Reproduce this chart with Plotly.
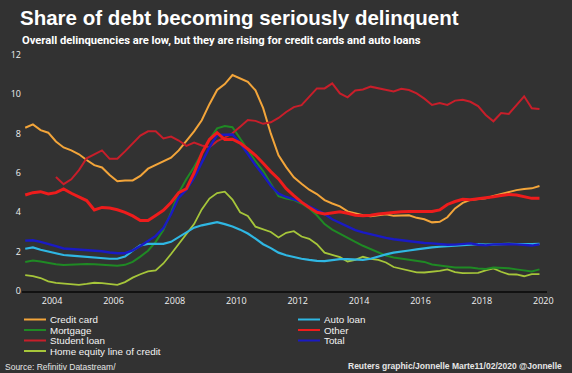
import plotly.graph_objects as go

# ---- data (quarterly, 2003Q1 .. 2019Q4), % of balance transitioning into serious delinquency
years = list(range(2003, 2020))
quarters = [(y, q) for y in years for q in (1, 2, 3, 4)]

credit_card = [8.30, 8.47, 8.18, 8.05, 7.60, 7.30, 7.15, 6.95, 6.66, 6.40, 6.28, 5.90,
               5.58, 5.62, 5.62, 5.85, 6.22, 6.40, 6.57, 6.78, 7.15, 7.62, 8.12, 8.68,
               9.50, 10.22, 10.52, 10.98, 10.81, 10.64, 10.20, 9.30, 8.00, 6.90, 6.30, 5.78,
               5.45, 5.15, 4.93, 4.62, 4.45, 4.30, 4.05, 3.95, 3.85, 3.80, 3.85, 3.90,
               3.82, 3.84, 3.85, 3.72, 3.65, 3.49, 3.52, 3.75, 4.20, 4.48, 4.63, 4.68,
               4.71, 4.83, 4.94, 5.05, 5.13, 5.19, 5.22, 5.34]

mortgage = [1.47, 1.55, 1.50, 1.42, 1.36, 1.32, 1.34, 1.36, 1.37, 1.36, 1.34, 1.32,
            1.29, 1.33, 1.48, 1.75, 2.05, 2.50, 3.10, 4.00, 5.00, 5.70, 6.30, 7.00,
            7.70, 8.27, 8.39, 8.33, 7.75, 7.15, 6.60, 6.10, 5.45, 4.82, 4.70, 4.62,
            4.45, 4.20, 3.85, 3.40, 3.12, 2.90, 2.72, 2.50, 2.30, 2.12, 1.94, 1.80,
            1.70, 1.65, 1.60, 1.52, 1.48, 1.35, 1.30, 1.24, 1.20, 1.19, 1.19, 1.15,
            1.12, 1.19, 1.18, 1.16, 1.10, 1.03, 0.99, 1.10]

student_loan = [None, None, None, None,
                5.80, 5.43, 5.68, 6.15, 6.75, 6.95, 7.15, 6.72,
                6.72, 7.10, 7.50, 7.90, 8.12, 8.12, 7.76, 7.85, 7.65, 7.38, 7.55, 7.40,
                7.31, 7.62, 7.80, 8.02, 8.35, 8.69, 8.65, 8.50, 8.58, 8.80, 9.10, 9.35,
                9.45, 9.85, 10.30, 10.30, 10.56, 10.05, 9.85, 10.20, 10.25, 10.39, 10.30, 10.22,
                10.15, 10.28, 10.22, 10.05, 9.78, 9.46, 9.56, 9.46, 9.68, 9.72, 9.62, 9.40,
                8.95, 8.63, 9.05, 9.00, 9.45, 9.90, 9.29, 9.25]

home_equity = [0.81, 0.76, 0.66, 0.49, 0.41, 0.37, 0.34, 0.31, 0.36, 0.42, 0.40, 0.36,
               0.31, 0.45, 0.68, 0.85, 1.00, 1.05, 1.40, 1.88, 2.42, 2.90, 3.40, 4.15,
               4.70, 4.98, 5.05, 4.65, 4.00, 3.82, 3.27, 3.12, 3.00, 2.72, 2.96, 3.04,
               2.77, 2.65, 2.38, 1.95, 1.83, 1.72, 1.50, 1.58, 1.74, 1.63, 1.58, 1.45,
               1.22, 1.12, 1.02, 0.95, 0.94, 0.97, 1.02, 1.10, 0.96, 0.91, 0.92, 0.92,
               1.05, 1.15, 0.98, 0.85, 0.84, 0.75, 0.86, 0.86]

auto_loan = [2.15, 2.22, 2.10, 2.00, 1.92, 1.83, 1.80, 1.77, 1.71, 1.68, 1.65, 1.64,
             1.64, 1.75, 2.05, 2.32, 2.40, 2.39, 2.40, 2.50, 2.75, 3.00, 3.22, 3.34,
             3.42, 3.50, 3.40, 3.28, 3.12, 2.92, 2.66, 2.38, 2.18, 1.95, 1.82, 1.72,
             1.64, 1.58, 1.53, 1.52, 1.57, 1.62, 1.62, 1.60, 1.58, 1.64, 1.76, 1.86,
             1.95, 2.02, 2.06, 2.12, 2.18, 2.22, 2.25, 2.28, 2.32, 2.34, 2.37, 2.38,
             2.36, 2.38, 2.40, 2.40, 2.39, 2.38, 2.38, 2.40]

other = [4.88, 5.00, 5.05, 4.93, 5.00, 5.19, 4.97, 4.80, 4.60, 4.12, 4.25, 4.22,
         4.13, 4.00, 3.82, 3.58, 3.58, 3.84, 4.10, 4.50, 5.00, 5.20, 6.00, 7.00,
         7.70, 8.05, 7.70, 7.72, 7.52, 7.22, 6.90, 6.50, 6.07, 5.70, 5.20, 4.85,
         4.52, 4.25, 4.00, 3.92, 3.98, 4.03, 3.95, 3.85, 3.82, 3.85, 3.92, 3.96,
         3.99, 4.03, 4.04, 4.03, 4.03, 4.04, 4.12, 4.40, 4.55, 4.66, 4.64, 4.68,
         4.72, 4.79, 4.86, 4.91, 4.88, 4.80, 4.71, 4.71]

total = [2.56, 2.58, 2.50, 2.40, 2.28, 2.16, 2.13, 2.10, 2.08, 2.06, 2.02, 1.96,
         1.92, 1.92, 2.06, 2.29, 2.54, 2.80, 3.20, 3.90, 4.75, 5.15, 5.75, 6.52,
         7.30, 7.93, 7.93, 7.96, 7.52, 6.95, 6.40, 5.90, 5.35, 4.95, 4.78, 4.66,
         4.52, 4.30, 4.10, 3.92, 3.65, 3.48, 3.30, 3.10, 2.98, 2.88, 2.78, 2.70,
         2.63, 2.58, 2.54, 2.50, 2.44, 2.42, 2.37, 2.35, 2.36, 2.40, 2.42, 2.35,
         2.32, 2.37, 2.39, 2.38, 2.37, 2.34, 2.31, 2.37]

y_ticks = [0, 2, 4, 6, 8, 10, 12]
x_ticks = [2004, 2006, 2008, 2010, 2012, 2014, 2016, 2018, 2020]

# x position: middle of each quarter
x = [y + (q - 0.5) / 4 for (y, q) in quarters]

BG = "#323232"
series = [
    # name, values, colour, width
    ("Home equity line of credit", home_equity, "#a6c63a", 1.8),
    ("Mortgage", mortgage, "#1f8a24", 2.0),
    ("Credit card", credit_card, "#f3a53a", 2.0),
    ("Student loan", student_loan, "#c81e2a", 2.0),
    ("Auto loan", auto_loan, "#2fb7e3", 2.2),
    ("Total", total, "#1a1ac4", 2.4),
    ("Other", other, "#ee1c1c", 3.0),
]
colour = {n: c for n, _, c, _ in series}

fig = go.Figure()
for name, vals, col, w in series:
    fig.add_trace(go.Scatter(x=x, y=vals, mode="lines", name=name,
                             line=dict(color=col, width=w), showlegend=False,
                             connectgaps=False, hoverinfo="skip"))

# layout geometry (pixels)
W, H = 572, 373
L, R, T, B = 22, 25, 55, 82
pw, ph = W - L - R, H - T - B


def px(xp):
    return (xp - L) / pw


def py(yp):
    return (H - B - yp) / ph


annotations = [
    dict(text="<b>Share of debt becoming seriously delinquent</b>", x=px(18), y=py(17),
         font=dict(family="Liberation Sans, Arial, sans-serif", size=20.5, color="#ffffff")),
    dict(text="<b>Overall delinquencies are low, but they are rising for credit cards and auto loans</b>",
         x=px(20), y=py(41),
         font=dict(family="Roboto, sans-serif", size=11.2, color="#ffffff")),
    dict(text="Source: Refinitiv Datastream/", x=px(3), y=py(366.5),
         font=dict(family="Liberation Sans, Arial, sans-serif", size=8.5, color="#e6e6e6")),
]
right_note = dict(text="<b>Reuters graphic/Jonnelle Marte11/02/2020 @Jonnelle</b>", x=px(564), y=py(366),
                  xanchor="right",
                  font=dict(family="Liberation Sans, Arial, sans-serif", size=8.5, color="#e6e6e6"))

legend_cols = [
    (24, ["Credit card", "Mortgage", "Student loan", "Home equity line of credit"]),
    (298, ["Auto loan", "Other", "Total"]),
]
row_y = [319.5, 330, 340.5, 351]
shapes = []
for x0, names in legend_cols:
    for i, n in enumerate(names):
        shapes.append(dict(type="line", xref="paper", yref="paper",
                           x0=px(x0), x1=px(x0 + 22), y0=py(row_y[i]), y1=py(row_y[i]),
                           line=dict(color=colour[n], width=2)))
        annotations.append(dict(text=n, x=px(x0 + 25), y=py(row_y[i]), borderpad=0,
                                font=dict(family="Liberation Sans, Arial, sans-serif",
                                          size=9.8, color="#f2f2f2")))

for a in annotations:
    a.setdefault("xref", "paper")
    a.setdefault("yref", "paper")
    a.setdefault("xanchor", "left")
    a.setdefault("yanchor", "middle")
    a.setdefault("showarrow", False)
right_note.update(xref="paper", yref="paper", yanchor="middle", showarrow=False)
annotations.append(right_note)

fig.update_layout(
    width=W, height=H,
    margin=dict(l=L, r=R, t=T, b=B),
    paper_bgcolor=BG, plot_bgcolor=BG,
    annotations=annotations, shapes=shapes,
    xaxis=dict(range=[2003.02, 2020.12], tickvals=x_ticks, ticktext=[str(v) for v in x_ticks],
               showgrid=False, zeroline=False, showline=True, linecolor="#111111", linewidth=1.5,
               ticks="", tickfont=dict(family="Open Sans, sans-serif", size=9, color="#f0f0f0")),
    yaxis=dict(range=[0, 12], tickvals=y_ticks, showgrid=False, zeroline=False, showline=False,
               ticks="", tickfont=dict(family="Open Sans, sans-serif", size=9, color="#f0f0f0")),
    showlegend=False,
)

fig.write_html("out.html", config={"displayModeBar": False},
               post_script="document.body.style.margin='0';document.body.style.background='#323232';")
